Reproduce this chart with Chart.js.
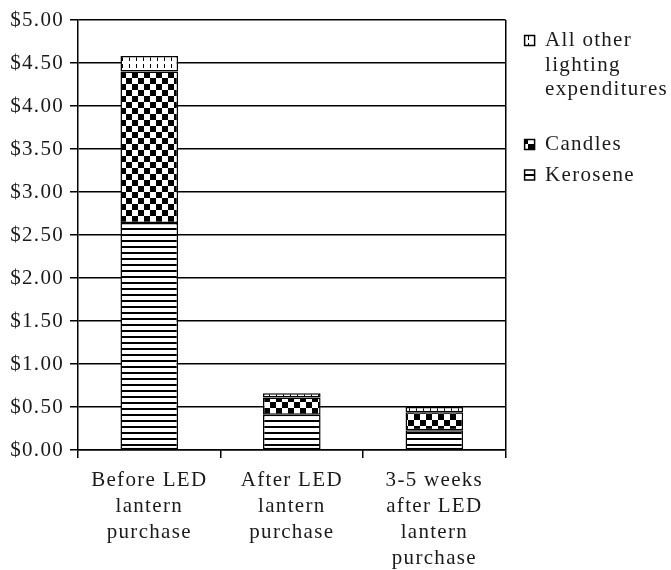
<!DOCTYPE html>
<html>
<head>
<meta charset="utf-8">
<script src="https://cdn.jsdelivr.net/npm/chart.js@4"></script>
<style>
  html, body { margin: 0; padding: 0; background: #fff; }
  #wrap { width: 671px; height: 570px; position: relative; }
</style>
</head>
<body>
<div id="wrap"><canvas id="c" width="671" height="570"></canvas></div>
<script>
// ---- data ----
const categories = [
  ['Before LED', 'lantern', 'purchase'],
  ['After LED', 'lantern', 'purchase'],
  ['3-5 weeks', 'after LED', 'lantern', 'purchase']
];
const kerosene = [2.64, 0.41, 0.23];
const candles = [1.76, 0.20, 0.21];
const otherLighting = [0.18, 0.05, 0.06];
const seriesNames = ['Kerosene', 'Candles', 'All other lighting expenditures'];
const legendText = [['Kerosene'], ['Candles'], ['All other', 'lighting', 'expenditures', '']];
const yTickLabels = ['$0.00', '$0.50', '$1.00', '$1.50', '$2.00', '$2.50', '$3.00', '$3.50', '$4.00', '$4.50', '$5.00'];

// ---- patterns ----
function makePattern(w, h, draw) {
  const c = document.createElement('canvas');
  c.width = w; c.height = h;
  const x = c.getContext('2d');
  x.fillStyle = '#fff';
  x.fillRect(0, 0, w, h);
  x.fillStyle = '#000';
  draw(x);
  return x.createPattern(c, 'repeat');
}
const patKerosene = makePattern(4, 6, x => { x.fillRect(0, 0, 4, 2); });
const patCandles = makePattern(12, 12, x => { x.fillRect(0, 0, 6, 6); x.fillRect(6, 6, 6, 6); });
const patOther = makePattern(7, 7, x => { x.fillRect(3, 1, 1, 4); });

const FONT = 'Liberation Serif';
const TXT = '#1a1a1a';
const SPACING = '1.3px';
const LEGEND_SHIFT = 13;

const spacingPlugin = {
  id: 'spacing',
  beforeUpdate(chart) { chart.ctx.letterSpacing = SPACING; },
  beforeLayout(chart) { chart.ctx.letterSpacing = SPACING; },
  afterLayout(chart) {
    const lg = chart.legend;
    if (lg) { lg.left += LEGEND_SHIFT; lg.right += LEGEND_SHIFT; }
  },
  beforeDraw(chart) { chart.ctx.letterSpacing = SPACING; }
};

const common = { borderColor: '#000', borderWidth: 1.5, borderSkipped: false, categoryPercentage: 1.0, barPercentage: 0.404 };

new Chart(document.getElementById('c'), {
  type: 'bar',
  data: {
    labels: categories,
    datasets: [
      Object.assign({ label: seriesNames[0], data: kerosene, backgroundColor: patKerosene }, common),
      Object.assign({ label: seriesNames[1], data: candles, backgroundColor: patCandles }, common),
      Object.assign({ label: seriesNames[2], data: otherLighting, backgroundColor: patOther }, common)
    ]
  },
  plugins: [spacingPlugin],
  options: {
    responsive: false,
    animation: false,
    devicePixelRatio: 1,
    layout: { padding: { top: 20, left: 0, right: 6, bottom: 0 } },
    plugins: {
      tooltip: { enabled: false },
      legend: {
        position: 'right',
        align: 'start',
        reverse: true,
        title: { display: true, text: '', font: { size: 1, lineHeight: 1 }, padding: { top: 0, bottom: 3 } },
        labels: {
          boxWidth: 10,
          boxHeight: 10,
          padding: 6,
          color: TXT,
          font: { family: FONT, size: 21, lineHeight: 1.167 },
          generateLabels(chart) {
            const items = Chart.defaults.plugins.legend.labels.generateLabels(chart);
            items.forEach(it => { it.text = legendText[it.datasetIndex]; });
            return items;
          }
        }
      }
    },
    scales: {
      x: {
        stacked: true,
        offset: true,
        grid: {
          offset: true,
          drawOnChartArea: true,
          drawTicks: true,
          tickLength: 8,
          color: ctx => (ctx.type === 'tick' ? 'rgba(0,0,0,0)' : '#000'),
          tickColor: '#000',
          lineWidth: 1.5
        },
        border: { display: true, color: '#000', width: 1.5 },
        ticks: { color: TXT, font: { family: FONT, size: 21, lineHeight: 1.25 }, padding: 9, maxRotation: 0, autoSkip: false },
        afterFit(scale) { scale.height = 120; }
      },
      y: {
        stacked: true,
        min: 0,
        max: 5,
        ticks: {
          stepSize: 0.5,
          color: TXT,
          padding: 6,
          font: { family: FONT, size: 21 },
          callback: (v, i) => yTickLabels[i]
        },
        grid: { color: '#000', lineWidth: 1.5, tickLength: 8, drawTicks: true },
        border: { display: true, color: '#000', width: 1.5 },
        afterFit(scale) { scale.width = 78; }
      }
    }
  }
});
</script>
</body>
</html>
